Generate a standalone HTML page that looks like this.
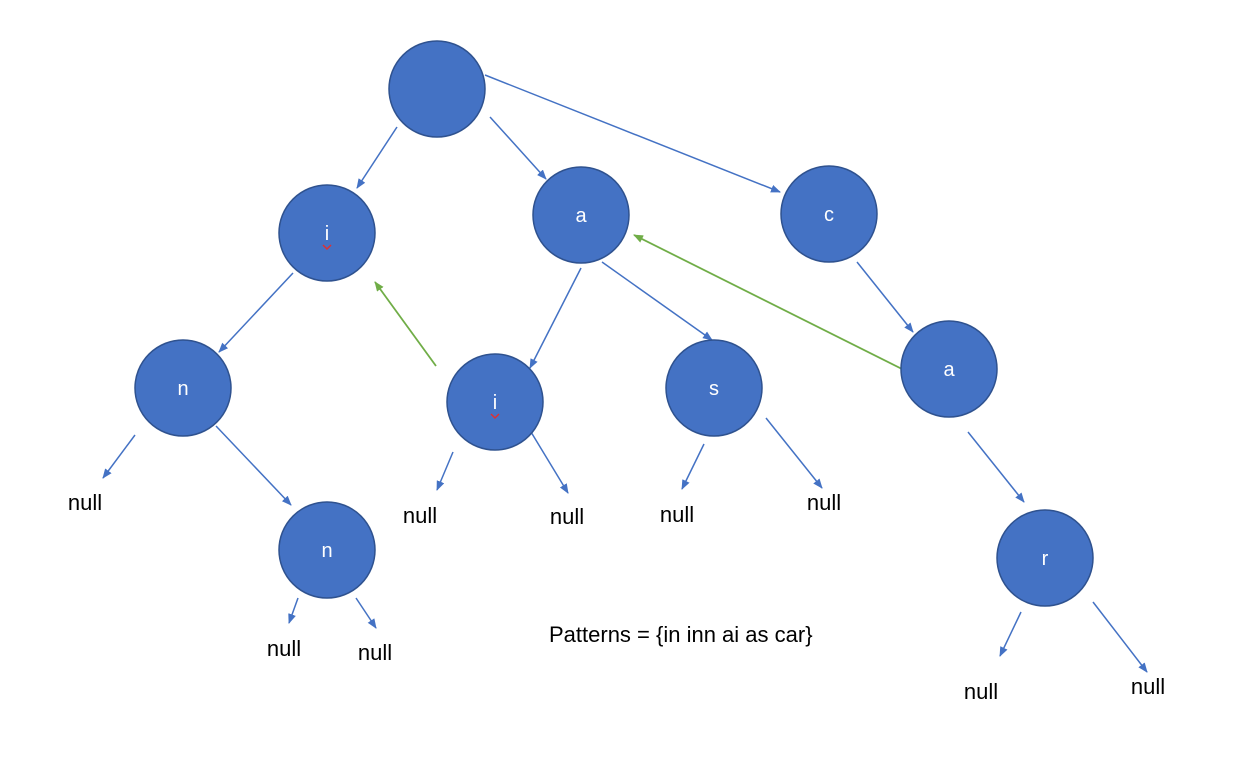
<!DOCTYPE html>
<html><head><meta charset="utf-8"><style>
html,body{margin:0;padding:0;background:#fff;}
svg{display:block;}
.n{fill:#4472C4;stroke:#2F528F;stroke-width:1.5;}
.t{font-family:"Liberation Sans",sans-serif;font-size:20px;fill:#fff;text-anchor:middle;}
.l{font-family:"Liberation Sans",sans-serif;font-size:22px;fill:#000;text-anchor:middle;}
.b{stroke:#4472C4;stroke-width:1.5;fill:none;marker-end:url(#ab);}
.g{stroke:#70AD47;stroke-width:1.8;fill:none;marker-end:url(#ag);}
</style></head><body>
<svg width="1236" height="774" viewBox="0 0 1236 774" xmlns="http://www.w3.org/2000/svg">
<defs>
<marker id="ab" markerWidth="10" markerHeight="8" refX="9" refY="4" orient="auto" markerUnits="userSpaceOnUse"><path d="M0,0 L10,4 L0,8 z" fill="#4472C4"/></marker>
<marker id="ag" markerWidth="10" markerHeight="8" refX="9" refY="4" orient="auto" markerUnits="userSpaceOnUse"><path d="M0,0 L10,4 L0,8 z" fill="#70AD47"/></marker>
</defs>
<line class="b" x1="397" y1="127" x2="357" y2="188"/>
<line class="b" x1="490" y1="117" x2="546" y2="179"/>
<line class="b" x1="485" y1="75" x2="780" y2="192"/>
<line class="b" x1="293" y1="273" x2="219" y2="352"/>
<line class="b" x1="581" y1="268" x2="530" y2="368"/>
<line class="b" x1="602" y1="262" x2="712" y2="340"/>
<line class="b" x1="857" y1="262" x2="913" y2="332"/>
<line class="b" x1="135" y1="435" x2="103" y2="478"/>
<line class="b" x1="216" y1="426" x2="291" y2="505"/>
<line class="b" x1="453" y1="452" x2="437" y2="490"/>
<line class="b" x1="531" y1="432" x2="568" y2="493"/>
<line class="b" x1="704" y1="444" x2="682" y2="489"/>
<line class="b" x1="766" y1="418" x2="822" y2="488"/>
<line class="b" x1="968" y1="432" x2="1024" y2="502"/>
<line class="b" x1="298" y1="598" x2="289" y2="623"/>
<line class="b" x1="356" y1="598" x2="376" y2="628"/>
<line class="b" x1="1021" y1="612" x2="1000" y2="656"/>
<line class="b" x1="1093" y1="602" x2="1147" y2="672"/>
<line class="g" x1="436" y1="366" x2="375" y2="282"/>
<line class="g" x1="920" y1="378" x2="634" y2="235"/>
<circle class="n" cx="437" cy="89" r="48"/>
<circle class="n" cx="327" cy="233" r="48"/>
<circle class="n" cx="581" cy="215" r="48"/>
<circle class="n" cx="829" cy="214" r="48"/>
<circle class="n" cx="183" cy="388" r="48"/>
<circle class="n" cx="495" cy="402" r="48"/>
<circle class="n" cx="714" cy="388" r="48"/>
<circle class="n" cx="949" cy="369" r="48"/>
<circle class="n" cx="327" cy="550" r="48"/>
<circle class="n" cx="1045" cy="558" r="48"/>
<text class="t" x="327" y="240">i</text>
<path d="M323,245 l4,4 l4,-4" stroke="#e03030" stroke-width="1.5" fill="none"/>
<text class="t" x="581" y="222">a</text>
<text class="t" x="829" y="221">c</text>
<text class="t" x="183" y="395">n</text>
<text class="t" x="495" y="409">i</text>
<path d="M491,414 l4,4 l4,-4" stroke="#e03030" stroke-width="1.5" fill="none"/>
<text class="t" x="714" y="395">s</text>
<text class="t" x="949" y="376">a</text>
<text class="t" x="327" y="557">n</text>
<text class="t" x="1045" y="565">r</text>
<text class="l" x="85" y="510">null</text>
<text class="l" x="420" y="523">null</text>
<text class="l" x="567" y="524">null</text>
<text class="l" x="677" y="522">null</text>
<text class="l" x="824" y="510">null</text>
<text class="l" x="284" y="656">null</text>
<text class="l" x="375" y="660">null</text>
<text class="l" x="981" y="699">null</text>
<text class="l" x="1148" y="694">null</text>
<text class="l" x="549" y="642" style="text-anchor:start">Patterns = {in inn ai as car}</text>
</svg>
</body></html>
